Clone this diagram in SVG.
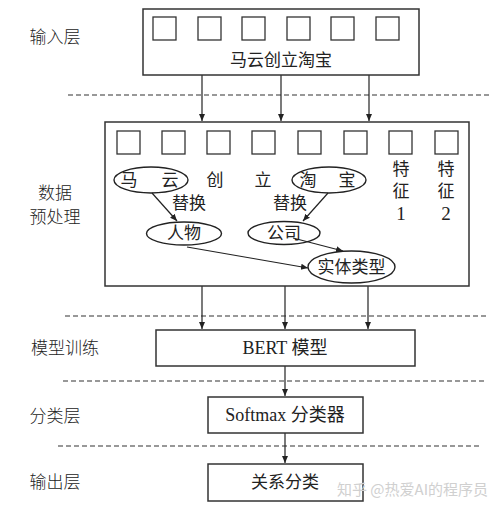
<svg xmlns="http://www.w3.org/2000/svg" width="500" height="505" viewBox="0 0 500 505">
<defs>
<marker id="ah" markerWidth="8" markerHeight="8" refX="7" refY="4" orient="auto" markerUnits="userSpaceOnUse">
<path d="M0,1 L7,4 L0,7 Z" fill="#222"/>
</marker>
<style>
text{font-family:"Liberation Serif","Noto Sans CJK SC",serif;fill:#222;text-anchor:middle;dominant-baseline:central}
.lbl{font-size:17px;font-weight:300}
.t{font-size:17px}
.n{font-size:19px}
.lat{font-size:18px}
.box{fill:#fff;stroke:#333;stroke-width:1.5}
.sq{fill:#fff;stroke:#333;stroke-width:1.3}
.ell{fill:#fff;stroke:#222;stroke-width:1.4}
.dash{stroke:#333;stroke-width:1.2;stroke-dasharray:5,3}
.con{stroke:#222;stroke-width:1.2;fill:none;marker-end:url(#ah)}
.wm{font-family:"Noto Sans CJK SC",sans-serif;font-size:15px;fill:#d0d0d0;text-anchor:start}
</style>
</defs>
<rect width="500" height="505" fill="#fff"/>

<g id="layer-labels">
<text class="lbl" x="55" y="37">输入层</text>
<text class="lbl" x="55" y="193">数据</text>
<text class="lbl" x="55" y="217">预处理</text>
<text class="lbl" x="65" y="348">模型训练</text>
<text class="lbl" x="55" y="416">分类层</text>
<text class="lbl" x="55" y="482">输出层</text>
</g>

<g id="separators">
<line class="dash" x1="68" y1="95" x2="490" y2="95"/>
<line class="dash" x1="65" y1="316" x2="488" y2="316"/>
<line class="dash" x1="63" y1="381" x2="485" y2="381"/>
<line class="dash" x1="58" y1="446" x2="482" y2="446"/>
</g>

<g id="connectors">
<line class="con" x1="202" y1="75" x2="202" y2="121"/>
<line class="con" x1="281" y1="75" x2="281" y2="121"/>
<line class="con" x1="369" y1="75" x2="369" y2="121"/>
<line class="con" x1="202" y1="286" x2="202" y2="329"/>
<line class="con" x1="285" y1="286" x2="285" y2="329"/>
<line class="con" x1="368" y1="286" x2="368" y2="329"/>
<line class="con" x1="285" y1="366" x2="285" y2="396"/>
<line class="con" x1="285" y1="433" x2="285" y2="463"/>
</g>

<g id="input-layer">
<rect class="box" x="143" y="9" width="276" height="66"/>
<rect class="sq" x="153" y="17" width="23" height="23"/>
<rect class="sq" x="198" y="17" width="23" height="23"/>
<rect class="sq" x="242" y="17" width="23" height="23"/>
<rect class="sq" x="287" y="17" width="23" height="23"/>
<rect class="sq" x="331" y="17" width="23" height="23"/>
<rect class="sq" x="376" y="17" width="23" height="23"/>
<text class="t" x="281" y="60">马云创立淘宝</text>
</g>

<g id="preprocess">
<rect class="box" x="105" y="122" width="364" height="164"/>
<rect class="sq" x="117" y="131" width="23" height="23"/>
<rect class="sq" x="162" y="131" width="23" height="23"/>
<rect class="sq" x="207" y="131" width="23" height="23"/>
<rect class="sq" x="252" y="131" width="23" height="23"/>
<rect class="sq" x="298" y="131" width="23" height="23"/>
<rect class="sq" x="344" y="131" width="23" height="23"/>
<rect class="sq" x="389" y="131" width="23" height="23"/>
<rect class="sq" x="435" y="131" width="23" height="23"/>

<g id="node-mayun">
<ellipse class="ell" cx="151" cy="180" rx="37" ry="13"/>
<text class="t" x="129" y="180">马</text>
<text class="t" x="170" y="180">云</text>
</g>
<text class="t" x="215" y="180">创</text>
<text class="t" x="263" y="180">立</text>
<g id="node-taobao">
<ellipse class="ell" cx="329" cy="180" rx="37" ry="13"/>
<text class="t" x="308" y="180">淘</text>
<text class="t" x="347" y="180">宝</text>
</g>
<g id="feature1">
<text class="t" x="401" y="169">特</text>
<text class="t" x="401" y="191">征</text>
<text class="n" x="401" y="213">1</text>
</g>
<g id="feature2">
<text class="t" x="446" y="169">特</text>
<text class="t" x="446" y="191">征</text>
<text class="n" x="446" y="213">2</text>
</g>
<text class="t" x="189" y="203">替换</text>
<text class="t" x="290" y="203">替换</text>
<g id="node-renwu">
<ellipse class="ell" cx="184" cy="233.5" rx="37.5" ry="11.5"/>
<text class="t" x="184" y="233.5">人物</text>
</g>
<g id="node-gongsi">
<ellipse class="ell" cx="284" cy="233" rx="36" ry="11.5"/>
<text class="t" x="284" y="233">公司</text>
</g>
<g id="node-entity">
<ellipse class="ell" cx="351.5" cy="267" rx="43.5" ry="16"/>
<text class="t" x="351.5" y="267">实体类型</text>
</g>
<g id="inner-connectors">
<line class="con" x1="152" y1="193" x2="177" y2="221"/>
<line class="con" x1="328" y1="193" x2="303" y2="221"/>
<line class="con" x1="293" y1="238" x2="343" y2="251"/>
<line class="con" x1="187" y1="247" x2="308" y2="268"/>
</g>
</g>

<g id="bert">
<rect class="box" x="156" y="330" width="259" height="36"/>
<text class="lat" x="285" y="348">BERT 模型</text>
</g>

<g id="softmax">
<rect class="box" x="208" y="397" width="155" height="36"/>
<text class="lat" x="285" y="415">Softmax 分类器</text>
</g>

<g id="output">
<rect class="box" x="208" y="464" width="155" height="37"/>
<text class="t" x="285" y="482">关系分类</text>
</g>

<text class="wm" x="337" y="488">知乎 @热爱AI的程序员</text>
</svg>
